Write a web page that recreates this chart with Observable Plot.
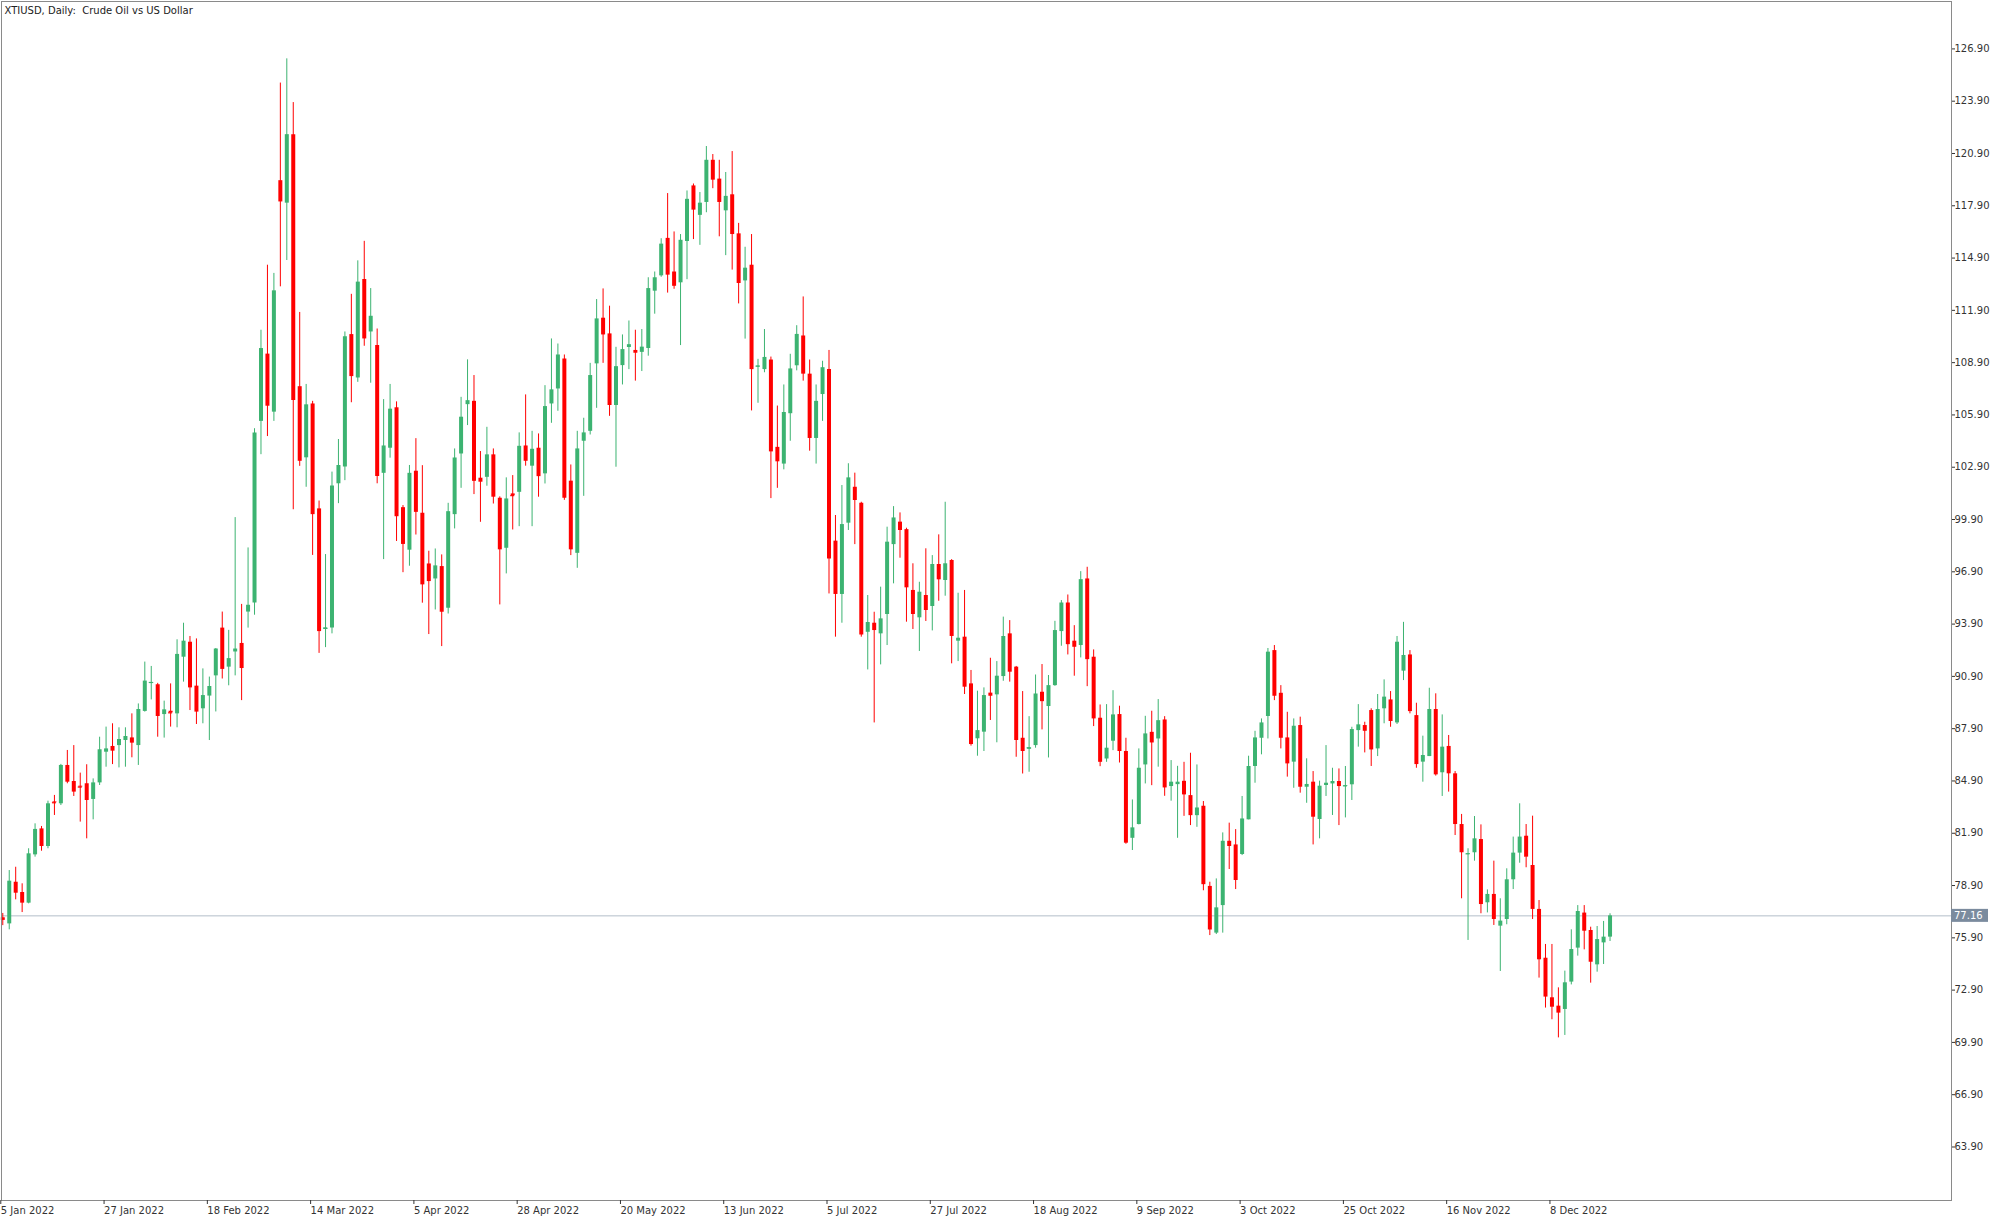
<!DOCTYPE html>
<html><head><meta charset="utf-8">
<script src="https://cdn.jsdelivr.net/npm/d3@7"></script>
<script src="https://cdn.jsdelivr.net/npm/@observablehq/plot@0.6"></script>
<style>html,body{margin:0;padding:0;background:#fff;}svg{display:block;}</style>
</head><body><div id="chart"></div>
<script>
const title = "XTIUSD, Daily:  Crude Oil vs US Dollar";
const dateLabelIndex = [0,16,32,48,64,80,96,112,128,144,160,176,192,208,224,240];
const dateLabels = ["5 Jan 2022","27 Jan 2022","18 Feb 2022","14 Mar 2022","5 Apr 2022","28 Apr 2022","20 May 2022","13 Jun 2022","5 Jul 2022","27 Jul 2022","18 Aug 2022","9 Sep 2022","3 Oct 2022","25 Oct 2022","16 Nov 2022","8 Dec 2022"];
const priceTicks = [63.90,66.90,69.90,72.90,75.90,78.90,81.90,84.90,87.90,90.90,93.90,96.90,99.90,102.90,105.90,108.90,111.90,114.90,117.90,120.90,123.90,126.90];
const lastPrice = 77.16;

const open = [77.05,76.70,79.09,78.50,77.89,80.66,82.15,81.14,83.70,83.59,85.79,84.87,84.60,84.74,83.84,84.79,86.55,86.88,86.93,87.22,
87.37,86.93,88.89,90.50,90.42,88.71,88.90,88.75,92.00,92.86,90.34,89.04,89.77,90.93,93.67,91.43,92.30,92.79,94.59,95.11,
105.53,109.39,106.06,119.34,118.05,121.98,107.52,103.44,106.53,100.51,93.59,93.67,101.95,102.92,110.51,108.02,113.67,110.66,109.89,102.55,
103.99,106.31,100.58,98.14,102.67,100.26,97.35,96.49,97.20,94.81,100.18,103.66,106.49,106.68,102.27,102.32,103.61,101.12,98.25,101.37,
101.46,104.12,102.96,103.99,102.52,106.53,107.39,109.11,102.10,97.96,104.39,104.96,108.83,111.45,110.55,106.44,108.73,109.77,109.60,109.49,
109.71,113.00,113.88,116.03,114.10,113.48,115.85,119.04,117.35,118.09,120.51,119.43,117.61,118.53,116.29,113.59,114.49,108.65,108.50,109.05,
104.04,103.08,105.97,108.72,110.43,108.24,104.55,107.07,108.50,98.66,95.60,99.69,101.75,100.84,93.43,93.95,93.34,94.45,98.46,99.75,
99.32,95.83,94.26,95.54,94.91,97.32,96.40,97.55,92.92,93.15,90.47,87.32,87.70,89.94,89.84,90.89,93.34,91.43,87.35,86.72,
86.93,89.99,89.17,90.37,93.47,95.11,92.92,92.67,96.49,92.00,88.50,86.16,87.18,88.71,86.59,81.61,82.40,85.82,87.69,87.31,
88.40,84.58,84.69,84.88,84.06,82.91,83.45,78.85,76.17,77.75,81.44,81.23,80.68,82.67,85.73,87.35,88.60,92.38,89.93,87.37,
85.98,88.08,84.54,84.83,82.69,84.64,84.73,84.87,84.58,84.68,87.79,88.08,88.94,86.74,89.04,89.55,88.23,91.20,92.13,88.65,
85.98,86.30,89.00,85.37,86.88,85.31,82.40,80.68,80.78,81.54,77.91,78.39,76.57,76.95,79.23,80.76,81.73,80.05,77.53,74.73,
72.46,71.98,71.79,73.36,75.31,77.32,76.32,74.35,75.61,75.94];
const high = [77.30,79.76,79.95,79.00,81.01,82.44,82.29,83.74,84.07,85.85,86.65,86.93,85.35,85.83,85.02,87.41,87.99,88.18,87.95,87.95,
88.75,89.32,91.72,91.47,90.50,89.48,90.47,93.00,93.95,93.19,93.05,91.33,90.86,92.50,94.59,93.54,100.01,95.03,98.27,105.11,
110.76,114.49,114.02,124.94,126.33,123.82,111.78,107.65,106.68,100.96,97.89,102.62,104.49,110.66,112.82,114.74,115.86,113.15,110.83,106.78,
107.65,106.65,100.70,103.00,104.54,102.99,98.08,98.21,97.87,100.83,103.95,106.91,109.06,108.16,103.80,105.19,103.95,101.20,102.29,102.42,
104.87,107.05,104.96,104.81,107.58,110.26,109.97,109.34,103.03,104.96,105.71,108.86,112.52,113.13,112.14,109.78,110.49,111.29,110.76,110.80,
113.77,114.10,116.01,118.60,116.40,116.25,118.75,119.15,118.66,121.30,120.84,120.51,119.81,121.01,116.89,115.52,116.25,109.09,110.80,109.22,
106.41,107.62,109.38,111.02,112.67,109.05,107.62,108.98,109.60,100.13,101.85,103.10,102.56,100.89,95.54,94.58,96.02,99.46,100.64,100.28,
99.40,97.36,96.30,98.22,97.83,99.02,100.89,97.60,95.67,95.83,91.24,90.05,90.24,91.94,91.75,94.30,94.10,91.47,90.03,88.59,
90.98,91.58,90.95,94.06,95.25,95.57,93.81,96.91,97.16,92.42,89.26,89.28,90.08,89.19,87.35,83.81,86.74,88.61,88.90,89.57,
88.59,86.07,85.74,85.97,86.49,85.82,83.72,79.09,79.28,81.92,82.48,82.11,84.01,86.32,87.75,88.46,92.50,92.67,90.37,88.84,
88.46,88.56,86.17,85.44,84.89,86.93,85.63,85.59,85.73,87.98,89.28,88.27,89.04,89.86,90.70,90.03,93.19,94.00,92.38,89.36,
87.47,90.22,89.90,88.69,87.51,85.44,82.98,81.01,82.86,82.38,78.65,80.30,78.14,79.86,81.68,83.59,82.40,82.88,78.04,75.52,
75.52,73.03,73.99,76.36,77.75,77.75,76.51,76.55,76.84,77.28];
const low = [76.60,76.36,78.08,77.35,77.85,80.53,80.87,81.01,82.92,83.49,84.74,84.01,82.54,81.58,82.67,84.64,85.69,85.84,85.65,85.69,
86.23,85.79,88.85,89.55,87.41,87.36,87.99,87.95,90.57,88.94,88.14,88.18,87.22,88.86,90.75,90.36,90.93,89.51,93.67,94.41,
103.62,104.66,105.53,113.25,114.76,100.46,102.95,101.75,97.84,92.22,92.55,93.34,100.81,102.13,106.60,107.77,109.84,107.72,101.95,97.60,
103.42,98.64,96.85,97.22,99.01,95.10,93.30,94.71,92.61,94.48,99.36,101.69,105.29,101.33,99.74,101.81,100.79,95.00,96.78,99.30,
99.49,102.96,99.49,101.18,101.94,105.42,106.11,101.00,97.83,97.10,101.23,104.75,106.28,108.86,105.82,102.90,107.62,108.50,107.84,108.39,
109.27,111.68,113.80,112.89,113.11,109.88,113.66,115.96,115.63,117.50,118.88,116.12,115.04,114.21,112.27,110.25,106.13,106.57,108.32,101.10,
101.69,102.75,104.39,108.43,107.84,103.82,103.08,105.53,95.63,93.15,93.95,99.27,98.46,93.15,91.27,88.23,91.56,92.67,96.21,97.68,
94.01,93.59,92.33,94.05,93.51,95.21,95.50,91.62,91.75,89.86,86.90,86.32,86.59,88.37,87.09,90.62,90.57,86.26,85.30,85.40,
86.78,87.83,86.22,90.33,92.63,92.13,90.91,91.96,90.31,88.02,85.72,85.97,86.64,85.93,81.27,80.91,82.38,84.73,84.63,85.69,
84.02,83.74,81.61,82.87,82.34,82.24,78.60,76.03,76.09,76.17,79.82,78.67,80.62,82.67,84.77,86.40,87.31,89.51,86.74,85.12,
84.48,84.20,83.62,81.23,81.58,84.01,82.92,82.34,82.78,83.78,86.84,86.51,85.73,86.30,88.18,87.98,88.14,90.66,88.75,85.63,
84.83,86.30,85.18,84.01,84.26,81.77,78.14,75.75,80.30,77.28,77.33,76.61,73.97,76.65,78.67,80.18,79.92,76.95,73.59,71.87,
71.20,70.16,70.30,73.20,74.85,75.21,73.30,73.93,74.37,75.69];
const close = [76.90,79.15,78.46,77.89,80.72,82.12,81.14,83.59,83.65,85.79,84.83,84.26,84.55,83.78,84.79,86.69,86.74,86.61,87.28,87.45,
87.07,89.00,90.63,90.55,88.60,88.98,88.81,92.16,92.92,90.24,88.85,89.80,90.32,92.47,91.30,91.92,92.47,91.35,94.98,104.86,
109.71,106.40,113.02,118.12,121.98,106.73,103.24,106.48,100.18,93.47,93.67,101.83,103.00,110.39,108.10,113.52,110.26,111.56,102.37,104.12,
106.23,100.06,98.47,102.55,100.31,96.15,96.34,97.24,94.58,100.35,103.43,105.77,106.72,102.09,102.04,103.61,101.18,98.16,101.08,101.27,
104.10,103.24,103.93,102.36,106.38,107.34,109.34,101.12,98.16,103.95,104.87,108.16,111.41,110.49,106.44,108.67,109.65,109.93,109.44,109.79,
113.15,113.77,115.70,113.92,113.28,115.92,118.27,117.65,118.05,120.51,119.37,118.09,118.44,116.25,113.44,114.32,108.50,108.70,109.20,103.78,
103.21,106.04,108.54,110.52,108.24,104.55,106.68,108.61,97.64,95.60,99.61,102.29,100.99,93.28,93.99,93.53,94.20,98.60,99.99,99.27,
95.98,94.45,95.73,94.68,97.32,96.44,97.36,93.19,93.09,90.28,86.99,87.79,89.80,89.76,90.91,93.19,91.14,87.22,86.59,86.80,
89.89,89.45,90.37,93.53,95.11,92.72,92.57,96.45,91.86,88.46,85.97,86.78,88.69,86.59,81.33,82.21,85.63,87.60,87.08,88.36,
84.50,84.83,84.83,84.10,82.91,83.35,78.95,76.35,77.62,81.44,81.14,79.19,82.72,85.73,87.37,88.23,92.29,89.76,87.35,85.88,
88.04,84.54,84.70,82.82,84.60,84.77,84.87,84.58,84.62,87.85,88.12,87.75,86.68,89.00,89.71,88.31,92.86,92.10,88.88,85.84,
86.36,89.00,85.25,86.84,85.31,82.40,80.78,80.72,81.58,77.81,78.39,76.95,76.86,79.23,80.76,81.68,80.53,77.53,74.64,72.50,
71.92,71.58,73.32,75.23,77.41,76.28,74.50,75.80,75.94,77.16];

const candles = open.map((o, i) => ({i, o, h: high[i], l: low[i], c: close[i], up: close[i] >= open[i]}));
const up = candles.filter(d => d.up), down = candles.filter(d => !d.up);
const doji = candles.filter(d => Math.abs(d.o - d.c) < 0.12);
const GREEN = "#3cb371", RED = "#ff0000";
const FONT = "DejaVu Sans";

const plot = Plot.plot({
  width: 1999, height: 1222,
  marginLeft: 1, marginRight: 48, marginTop: 1, marginBottom: 22,
  style: {fontFamily: FONT, fontSize: "10px", color: "#222", background: "#fff"},
  x: {type: "linear", domain: [-0.2, 301.9], axis: null},
  y: {domain: [60.83, 129.62], axis: null},
  marks: [
    Plot.ruleY([lastPrice], {stroke: "#b3bec9", strokeWidth: 1}),
    Plot.ruleX(up, {x: "i", y1: "l", y2: "h", stroke: GREEN, strokeWidth: 1}),
    Plot.ruleX(down, {x: "i", y1: "l", y2: "h", stroke: RED, strokeWidth: 1}),
    Plot.ruleX(up, {x: "i", y1: "o", y2: "c", stroke: GREEN, strokeWidth: 4}),
    Plot.ruleX(down, {x: "i", y1: "o", y2: "c", stroke: RED, strokeWidth: 4}),
    Plot.ruleY(doji, {y: "c", x1: d => d.i - 0.31, x2: d => d.i + 0.31, stroke: d => d.up ? GREEN : RED, strokeWidth: 1.2}),
    Plot.frame({stroke: "#8a8a8a"}),
    Plot.axisY(priceTicks, {anchor: "right", tickSize: 3, tickPadding: 0, tickFormat: d => d.toFixed(2), fontSize: 10, color: "#333", label: null}),
    Plot.axisX(dateLabelIndex, {anchor: "bottom", tickSize: 4, tickPadding: 2, textAnchor: "start", dx: -2, tickFormat: d => dateLabels[dateLabelIndex.indexOf(d)], fontSize: 10, color: "#333", label: null}),
    Plot.text([title], {frameAnchor: "top-left", dx: 3, dy: 5, textAnchor: "start", lineAnchor: "top", fontSize: 10, fill: "#222"})
  ]
});

// current price label on the price axis
const ys = plot.scale("y"), xs = plot.scale("x");
const yy = ys.apply(lastPrice), xr = xs.range[1];
const svg = d3.select(plot);
svg.append("rect").attr("x", xr).attr("y", yy - 6.5).attr("width", 37).attr("height", 13).attr("fill", "#7b8b9e");
svg.append("text").attr("x", xr + 3).attr("y", yy).attr("dy", "0.35em").attr("fill", "#fff")
  .attr("text-anchor", "start").attr("font-family", FONT).attr("font-size", 10).text(lastPrice.toFixed(2));

document.getElementById("chart").appendChild(plot);
</script></body></html>
